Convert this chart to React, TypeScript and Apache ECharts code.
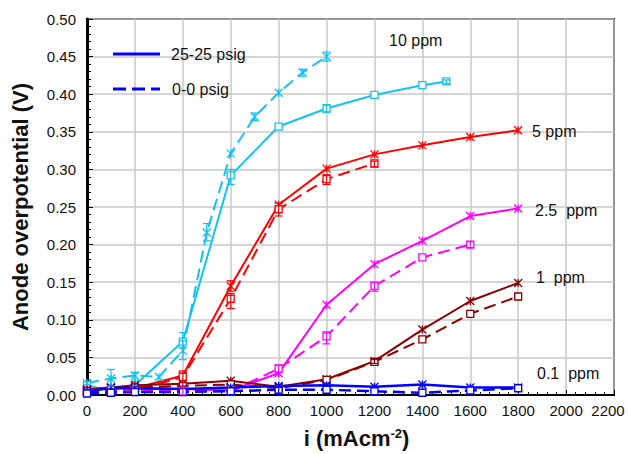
import React, { useEffect, useRef } from "react";
import * as echarts from "echarts";

// ---- data (x = current density mA/cm², y = anode overpotential V) ----
const xTicks = [0, 200, 400, 600, 800, 1000, 1200, 1400, 1600, 1800, 2000, 2200];

const ppm10_25 = [[0, 0.013], [100, 0.005], [200, 0.013], [400, 0.071], [600, 0.292], [800, 0.357], [1000, 0.381], [1200, 0.399], [1400, 0.412], [1500, 0.417]];
const ppm10_00 = [[0, 0.016], [100, 0.022], [200, 0.026], [300, 0.024], [400, 0.059], [500, 0.216], [600, 0.321], [700, 0.37], [800, 0.402], [900, 0.429], [1000, 0.45]];
const ppm5_25 = [[0, 0.006], [100, 0.009], [200, 0.009], [400, 0.026], [600, 0.145], [800, 0.253], [1000, 0.301], [1200, 0.32], [1400, 0.332], [1600, 0.343], [1800, 0.352]];
const ppm5_00 = [[0, 0.004], [100, 0.005], [200, 0.006], [400, 0.024], [600, 0.128], [800, 0.247], [1000, 0.287], [1200, 0.308]];
const ppm25_25 = [[0, 0.008], [100, 0.01], [200, 0.009], [400, 0.008], [600, 0.006], [800, 0.029], [1000, 0.12], [1200, 0.174], [1400, 0.205], [1600, 0.238], [1800, 0.248]];
const ppm25_00 = [[0, 0.005], [100, 0.006], [200, 0.007], [400, 0.006], [600, 0.005], [800, 0.035], [1000, 0.078], [1200, 0.145], [1400, 0.183], [1600, 0.2]];
const ppm1_25 = [[0, 0.007], [100, 0.01], [200, 0.013], [400, 0.015], [600, 0.019], [800, 0.011], [1000, 0.021], [1200, 0.045], [1400, 0.087], [1600, 0.125], [1800, 0.149]];
const ppm1_00 = [[0, 0.005], [100, 0.007], [200, 0.01], [400, 0.012], [600, 0.014], [800, 0.009], [1000, 0.02], [1200, 0.044], [1400, 0.074], [1600, 0.108], [1800, 0.131]];
const ppm01_25 = [[0, 0.004], [100, 0.01], [200, 0.009], [400, 0.008], [600, 0.01], [800, 0.012], [1000, 0.013], [1200, 0.011], [1400, 0.014], [1600, 0.01], [1800, 0.01]];
const ppm01_00 = [[0, 0.002], [100, 0.003], [200, 0.004], [400, 0.004], [600, 0.005], [800, 0.007], [1000, 0.007], [1200, 0.005], [1400, 0.003], [1600, 0.006], [1800, 0.009]];

// error bars: [x, low, high]
const err10 = [[100, 0.012, 0.034], [200, 0.02, 0.03], [400, 0.047, 0.072], [400, 0.063, 0.083], [500, 0.205, 0.228], [600, 0.28, 0.3], [700, 0.365, 0.375], [900, 0.424, 0.433], [1000, 0.444, 0.456], [1000, 0.376, 0.386], [1500, 0.414, 0.419]];
const err5 = [[400, 0.012, 0.032], [600, 0.138, 0.152], [600, 0.115, 0.135], [800, 0.238, 0.255], [1000, 0.28, 0.293], [1200, 0.303, 0.311]];
const err25 = [[400, 0, 0.01], [800, 0.03, 0.04], [1000, 0.068, 0.084], [1200, 0.138, 0.15], [1600, 0.196, 0.204]];
const err1 = [[1200, 0.042, 0.047]];
const err01 = [[800, 0, 0.01]];

const seriesLabels = ["10 ppm", "5 ppm", "2.5  ppm", "1  ppm", "0.1  ppm"];
const legendLabels = ["25-25 psig", "0-0 psig"];

const CYAN = "#12c3f0";
const RED = "#ff0000";
const MAGENTA = "#ff00ff";
const DARKRED = "#8a0000";
const BLUE = "#0000ff";

const STAR = "path://M0,0L10,10M10,0L0,10M5,0L5,10";
const FONT = "Liberation Sans, Arial, sans-serif";

function lineSeries(name: string, data: number[][], color: string, dashed: boolean, marker: "star" | "square", width = 2) {
  const isStar = marker === "star";
  return {
    type: "line",
    name,
    data,
    symbol: isStar ? STAR : "rect",
    symbolSize: isStar ? 8 : 7,
    showAllSymbol: true,
    clip: true,
    lineStyle: { color, width, type: dashed ? [12, 6] : "solid" },
    itemStyle: isStar
      ? { color: "rgba(0,0,0,0)", borderColor: color, borderWidth: 1.3 }
      : { color: "#ffffff", borderColor: color, borderWidth: 1.3 },
    emphasis: { disabled: true },
    z: 3,
  };
}

function errSeries(data: number[][], color: string) {
  return {
    type: "custom",
    data,
    clip: true,
    z: 4,
    encode: { x: 0, y: [1, 2] },
    renderItem: (_p: any, api: any) => {
      const x = api.value(0);
      const top = api.coord([x, api.value(2)]);
      const bot = api.coord([x, api.value(1)]);
      const w = 4;
      const st = { stroke: color, lineWidth: 1.2 };
      return {
        type: "group",
        children: [
          { type: "line", shape: { x1: top[0], y1: top[1], x2: bot[0], y2: bot[1] }, style: st },
          { type: "line", shape: { x1: top[0] - w, y1: top[1], x2: top[0] + w, y2: top[1] }, style: st },
          { type: "line", shape: { x1: bot[0] - w, y1: bot[1], x2: bot[0] + w, y2: bot[1] }, style: st },
        ],
      };
    },
  };
}

export default function App() {
  const ref = useRef<HTMLDivElement>(null);
  useEffect(() => {
    if (!ref.current) return;
    const chart = echarts.init(ref.current, null, { renderer: "svg" });
    const labelStyle = { fontFamily: FONT, fontSize: 16, fill: "#111" };
    chart.setOption({
      animation: false,
      backgroundColor: "#fff",
      grid: {
        left: 87, right: 14, top: 19, bottom: 59, show: true, borderColor: "#000", borderWidth: 2,
        containLabel: false, outerBoundsMode: "none",
      },
      xAxis: {
        type: "value",
        min: 0,
        max: 2200,
        interval: 200,
        name: "i (mAcm{sup|-2})",
        nameLocation: "middle",
        nameGap: 32,
        nameMoveOverlap: false,
        nameTextStyle: {
          fontFamily: FONT, fontSize: 22, fontWeight: "bold", color: "#111", padding: [0, 0, 0, 12],
          rich: { sup: { fontFamily: FONT, fontSize: 13, fontWeight: "bold", color: "#111", verticalAlign: "top", padding: [0, 0, 10, 0] } },
        },
        axisLine: { lineStyle: { color: "#000", width: 2 } },
        axisTick: { inside: true, length: 5, lineStyle: { color: "#000", width: 1 } },
        minorTick: { show: true, splitNumber: 5, length: 3, lineStyle: { color: "#000" } },
        axisLabel: {
          fontFamily: FONT, fontSize: 15, color: "#111", margin: 8,
          formatter: (v: number) => (v === xTicks[xTicks.length - 1] ? `{last|${v}}` : xTicks.includes(v) ? String(v) : ""),
          rich: { last: { fontFamily: FONT, fontSize: 15, color: "#111", padding: [0, 12, 0, 0] } },
        },
        splitLine: { show: true, lineStyle: { color: "#c8c8c8", width: 1.5 } },
      },
      yAxis: {
        type: "value",
        min: 0,
        max: 0.5,
        interval: 0.05,
        name: "Anode overpotential (V)",
        nameLocation: "middle",
        nameGap: 56,
        nameMoveOverlap: false,
        nameTextStyle: { fontFamily: FONT, fontSize: 22, fontWeight: "bold", color: "#111" },
        axisLine: { lineStyle: { color: "#000", width: 3 } },
        axisTick: { inside: true, length: 6, lineStyle: { color: "#000", width: 1 } },
        minorTick: { show: true, splitNumber: 5, length: 4, lineStyle: { color: "#000" } },
        axisLabel: { fontFamily: FONT, fontSize: 15, color: "#111", margin: 11, formatter: (v: number) => v.toFixed(2) },
        splitLine: { show: true, lineStyle: { color: "#c8c8c8", width: 1.5 } },
      },
      series: [
        lineSeries("10 ppm 25-25", ppm10_25, CYAN, false, "square"),
        lineSeries("10 ppm 0-0", ppm10_00, CYAN, true, "star"),
        lineSeries("5 ppm 25-25", ppm5_25, RED, false, "star"),
        lineSeries("5 ppm 0-0", ppm5_00, RED, true, "square"),
        lineSeries("2.5 ppm 25-25", ppm25_25, MAGENTA, false, "star"),
        lineSeries("2.5 ppm 0-0", ppm25_00, MAGENTA, true, "square"),
        lineSeries("1 ppm 25-25", ppm1_25, DARKRED, false, "star"),
        lineSeries("1 ppm 0-0", ppm1_00, DARKRED, true, "square"),
        lineSeries("0.1 ppm 25-25", ppm01_25, BLUE, false, "star", 2.5),
        lineSeries("0.1 ppm 0-0", ppm01_00, BLUE, true, "square", 2.5),
        errSeries(err10, CYAN),
        errSeries(err5, RED),
        errSeries(err25, MAGENTA),
        errSeries(err1, DARKRED),
        errSeries(err01, BLUE),
      ],
      graphic: [
        { type: "line", shape: { x1: 113, y1: 54, x2: 160, y2: 54 }, style: { stroke: BLUE, lineWidth: 3 }, z: 10 },
        { type: "text", x: 171, y: 54, style: { ...labelStyle, text: legendLabels[0], verticalAlign: "middle" }, z: 10 },
        { type: "line", shape: { x1: 113, y1: 89, x2: 160, y2: 89 }, style: { stroke: BLUE, lineWidth: 3, lineDash: [13, 6] }, z: 10 },
        { type: "text", x: 172, y: 89, style: { ...labelStyle, text: legendLabels[1], verticalAlign: "middle" }, z: 10 },
        { type: "text", x: 389, y: 40, style: { ...labelStyle, text: seriesLabels[0], verticalAlign: "middle" }, z: 10 },
        { type: "text", x: 532, y: 131, style: { ...labelStyle, text: seriesLabels[1], verticalAlign: "middle" }, z: 10 },
        { type: "text", x: 535, y: 210, style: { ...labelStyle, text: seriesLabels[2], verticalAlign: "middle" }, z: 10 },
        { type: "text", x: 536, y: 277, style: { ...labelStyle, text: seriesLabels[3], verticalAlign: "middle" }, z: 10 },
        { type: "text", x: 537, y: 373, style: { ...labelStyle, text: seriesLabels[4], verticalAlign: "middle" }, z: 10 },
      ],
    });
    return () => chart.dispose();
  }, []);
  return <div ref={ref} style={{ width: 628, height: 454, position: "absolute", left: 0, top: 0 }} />;
}
